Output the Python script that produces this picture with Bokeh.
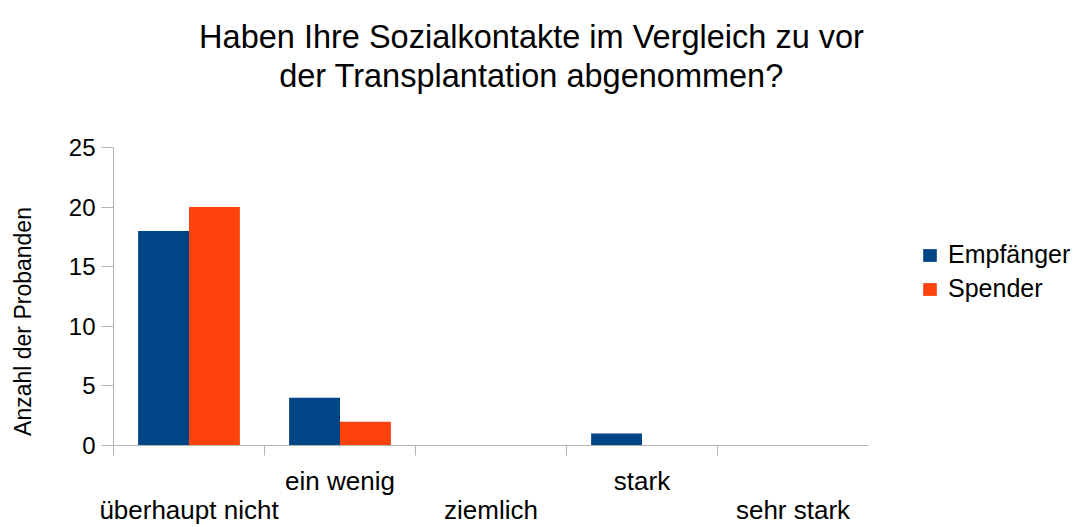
import math
from bokeh.plotting import figure
from bokeh.layouts import row
from bokeh.models import (ColumnDataSource, Range1d, FixedTicker, Legend, LegendItem,
                          Label, LinearAxis)
from bokeh.transform import dodge
from bokeh.embed import file_html
from bokeh.resources import INLINE

categories = ["überhaupt nicht", "ein wenig", "ziemlich", "stark", "sehr stark"]
empfaenger = [18, 4, 0, 1, 0]
spender = [20, 2, 0, 0, 0]
series_names = ["Empfänger", "Spender"]
y_ticks = [0, 5, 10, 15, 20, 25]
title_lines = ["Haben Ihre Sozialkontakte im Vergleich zu vor",
               "der Transplantation abgenommen?"]
y_label = "Anzahl der Probanden"

BLUE = "#004586"
ORANGE = "#ff420e"
GRID = "#b3b3b3"
FONT = "Liberation Sans"

# layout (pixels)
W, H = 1080, 527
LEFT_W = 50                      # strip holding the y-axis title
FRAME_L, FRAME_R = 113, 867
Y0_PX, Y25_PX = 445, 147
ymax = y_ticks[-1]
px_per_unit = (Y0_PX - Y25_PX) / ymax
y_top = ymax + Y25_PX / px_per_unit   # frame reaches the top of the canvas (title area)

n = len(categories)
centers = [i + 0.5 for i in range(n)]
src = ColumnDataSource(dict(x=centers, emp=empfaenger, spe=spender))

# ---- y-axis title strip
s = figure(width=LEFT_W, height=H, output_backend="svg", toolbar_location=None,
           x_range=Range1d(0, 1), y_range=Range1d(0, 1),
           min_border=0, x_axis_location=None, y_axis_location=None)
s.grid.grid_line_color = None
s.outline_line_color = None
s.add_layout(Label(x=22, y=124, x_units="screen", y_units="screen",
                   text=y_label, angle=math.pi / 2,
                   text_align="center", text_baseline="alphabetic",
                   text_font=FONT, text_font_size="23px", text_color="black"))

# ---- main plot
p = figure(width=FRAME_R + 1 - LEFT_W, height=H, output_backend="svg", toolbar_location=None,
           x_range=Range1d(0, n), y_range=Range1d(0, y_top),
           min_border_left=FRAME_L - LEFT_W, min_border_right=0,
           min_border_top=0, min_border_bottom=H - Y0_PX,
           x_axis_type=None, y_axis_type=None)

bw = 0.337
r1 = p.vbar(x=dodge("x", -bw / 2, range=p.x_range), top="emp", width=bw, source=src,
            fill_color=BLUE, line_color=None)
r2 = p.vbar(x=dodge("x", bw / 2, range=p.x_range), top="spe", width=bw, source=src,
            fill_color=ORANGE, line_color=None)

# x axis: category boundaries as ticks; labels staggered over two rows
upper = [i for i in range(n) if i % 2 == 1]
lower = [i for i in range(n) if i % 2 == 0]
xaxis_a = LinearAxis(ticker=FixedTicker(ticks=[centers[i] for i in upper],
                                        minor_ticks=list(range(n + 1))),
                     major_label_overrides={centers[i]: categories[i] for i in upper},
                     axis_line_color=GRID, major_tick_line_color=None,
                     major_tick_out=0, major_tick_in=0,
                     minor_tick_line_color=GRID, minor_tick_out=10, minor_tick_in=0,
                     major_label_standoff=10,
                     major_label_text_font=FONT, major_label_text_font_size="26px",
                     major_label_text_color="black")
p.add_layout(xaxis_a, "below")
xaxis_b = LinearAxis(ticker=FixedTicker(ticks=[centers[i] for i in lower], minor_ticks=[]),
                     major_label_overrides={centers[i]: categories[i] for i in lower},
                     axis_line_color=None, major_tick_line_color=None,
                     minor_tick_line_color=None, major_tick_out=0, major_tick_in=0,
                     major_label_standoff=-4,
                     major_label_text_font=FONT, major_label_text_font_size="26px",
                     major_label_text_color="black")
p.add_layout(xaxis_b, "below")

yaxis = LinearAxis(ticker=FixedTicker(ticks=y_ticks), bounds=(0, ymax),
                   major_tick_out=12, major_tick_in=0, minor_tick_line_color=None,
                   axis_line_color=GRID, major_tick_line_color=GRID,
                   major_label_text_font=FONT, major_label_text_font_size="24px",
                   major_label_text_color="black", major_label_standoff=6)
p.add_layout(yaxis, "left")

# right border of the plot area
raxis = LinearAxis(ticker=FixedTicker(ticks=[]), bounds=(0, ymax),
                   axis_line_color=GRID, major_tick_line_color=None,
                   minor_tick_line_color=None, major_tick_out=0, major_tick_in=0,
                   major_label_standoff=0, major_label_text_font_size="0px")
p.add_layout(raxis, "right")

p.ygrid.grid_line_color = GRID
p.ygrid.ticker = FixedTicker(ticks=y_ticks)
p.xgrid.grid_line_color = None
p.outline_line_color = None

# two-line title, centred over the canvas
tcx = 531 - FRAME_L
for line, base in zip(title_lines, [36, 75]):
    p.add_layout(Label(x=tcx, y=Y0_PX - base, x_units="screen", y_units="screen",
                       text=line, text_align="center", text_baseline="alphabetic",
                       text_font=FONT, text_font_size="32.5px", text_color="black"))

# ---- legend panel
q = figure(width=W - (FRAME_R + 1), height=H, output_backend="svg", toolbar_location=None,
           x_range=Range1d(0, 1), y_range=Range1d(0, 1),
           min_border=0, x_axis_location=None, y_axis_location=None)
q.grid.grid_line_color = None
q.outline_line_color = None
l1 = q.vbar(x=[-1], top=[0], width=0.1, fill_color=BLUE, line_color=None)
l2 = q.vbar(x=[-1], top=[0], width=0.1, fill_color=ORANGE, line_color=None)
legend = Legend(items=[LegendItem(label=series_names[0], renderers=[l1]),
                       LegendItem(label=series_names[1], renderers=[l2])],
                location=(53, 142), orientation="vertical",
                glyph_width=17, glyph_height=16, label_standoff=10, spacing=5,
                padding=0, margin=0, border_line_color=None,
                background_fill_alpha=0,
                label_text_font=FONT, label_text_font_size="25px", label_text_color="black")
q.add_layout(legend, "center")

layout = row(s, p, q, spacing=0)
open("out.html", "w").write(file_html(layout, INLINE))
